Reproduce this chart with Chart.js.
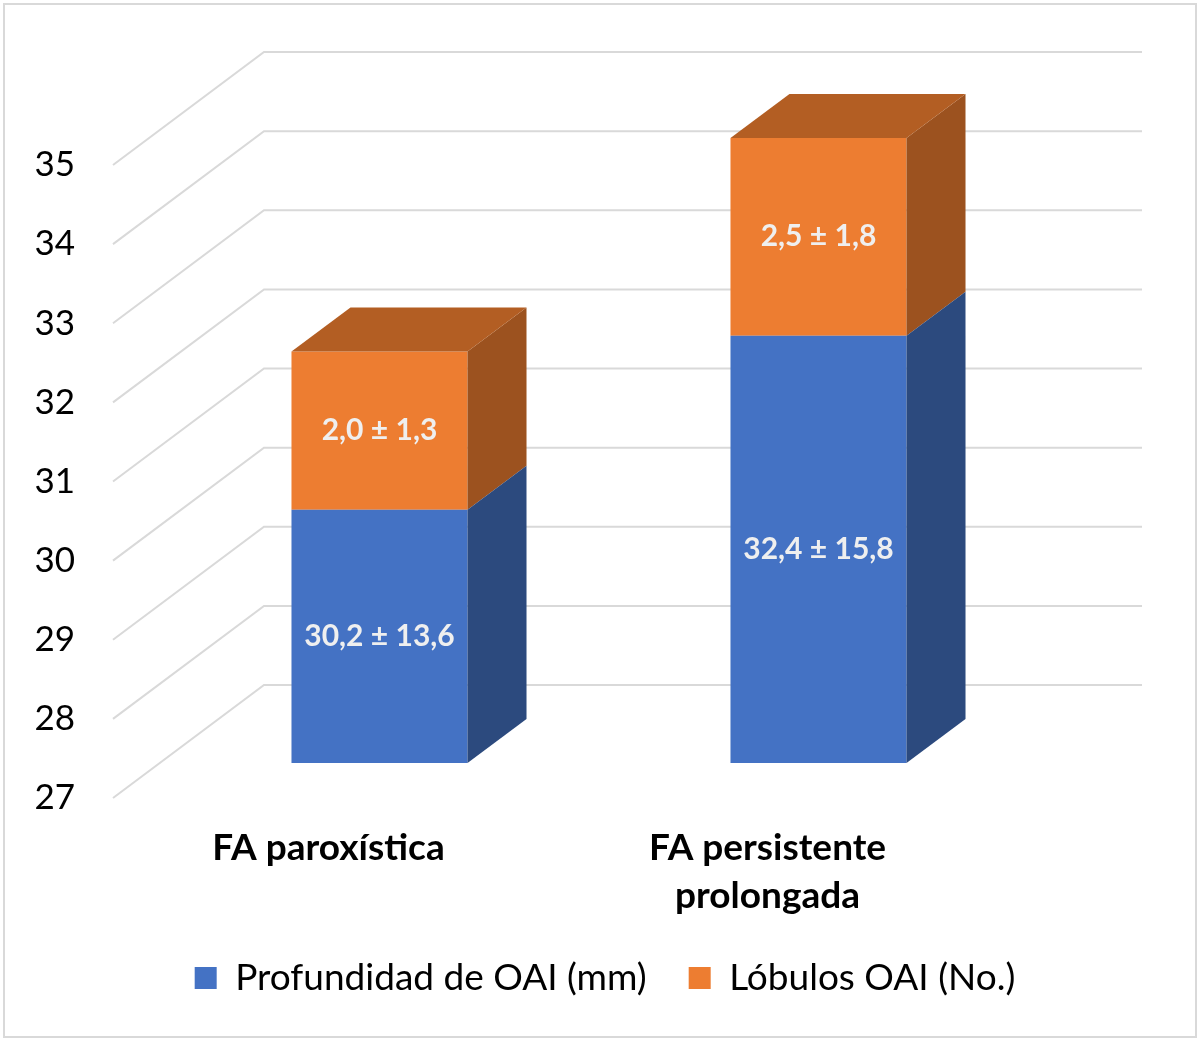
<!DOCTYPE html>
<html>
<head>
<meta charset="utf-8">
<script src="https://cdn.jsdelivr.net/npm/chart.js@4"></script>
<style>
  html, body { margin: 0; padding: 0; background: #fff; }
  #wrap { width: 1200px; height: 1041px; position: relative; }
</style>
</head>
<body>
<div id="wrap"><canvas id="chart"></canvas></div>
<script>
// Data
const categories = ["FA paroxística", ["FA persistente", "prolongada"]];
const seriesNames = ["Profundidad de OAI (mm)", "Lóbulos OAI (No.)"];
const depthValues = [30.2, 32.4];
const lobeValues = [2.0, 2.5];
const depthLabels = ["30,2 ± 13,6", "32,4 ± 15,8"];
const lobeLabels = ["2,0 ± 1,3", "2,5 ± 1,8"];
const yMin = 27;
const yMax = 35;

// Colours
const blue = "#4472C4", blueSide = "#2C4A7E";
const orange = "#ED7D31", orangeSide = "#9C521F", orangeTop = "#B35E23";
const gridColor = "#D9D9D9";
const font = "Lato, 'Open Sans', sans-serif";

// 3D offsets (px)
const barDx = 59, barDy = -44;      // bar depth
const wallDx = 104, wallDy = -78;   // bar front plane -> back wall
const floorDx = -47, floorDy = 35;  // bar front plane -> front edge

const ctx = document.getElementById("chart");

// Border + background
const frame = {
  id: "frame",
  beforeDraw(chart) {
    const c = chart.ctx;
    c.save();
    c.fillStyle = "#fff";
    c.fillRect(0, 0, chart.width, chart.height);
    c.strokeStyle = gridColor;
    c.lineWidth = 2;
    c.strokeRect(4, 4, chart.width - 8, chart.height - 8);
    c.restore();
  }
};

// Back wall + side wall grid lines
const walls = {
  id: "walls",
  beforeDatasetsDraw(chart) {
    const c = chart.ctx;
    const y = chart.scales.y;
    const area = chart.chartArea;
    c.save();
    c.strokeStyle = gridColor;
    c.lineWidth = 2;
    y.ticks.forEach(t => {
      const py = y.getPixelForValue(t.value);
      c.beginPath();
      c.moveTo(area.left + floorDx, py + floorDy);
      c.lineTo(area.left + wallDx, py + wallDy);
      c.lineTo(area.right + wallDx, py + wallDy);
      c.stroke();
    });
    c.restore();
  }
};

// Side and top faces of each box, then the value labels
const boxes = {
  id: "boxes",
  afterDatasetDraw(chart, args) {
    const c = chart.ctx;
    const i = args.index;
    const last = i === chart.data.datasets.length - 1;
    const side = i === 0 ? blueSide : orangeSide;
    c.save();
    args.meta.data.forEach(bar => {
      const p = bar.getProps(["x", "y", "base", "width"], true);
      const l = p.x - p.width / 2, r = p.x + p.width / 2;
      c.fillStyle = side;
      c.beginPath();
      c.moveTo(r, p.y);
      c.lineTo(r + barDx, p.y + barDy);
      c.lineTo(r + barDx, p.base + barDy);
      c.lineTo(r, p.base);
      c.closePath();
      c.fill();
      if (last) {
        c.fillStyle = orangeTop;
        c.beginPath();
        c.moveTo(l, p.y);
        c.lineTo(r, p.y);
        c.lineTo(r + barDx, p.y + barDy);
        c.lineTo(l + barDx, p.y + barDy);
        c.closePath();
        c.fill();
      }
    });
    c.restore();
  },
  afterDatasetsDraw(chart) {
    const c = chart.ctx;
    const texts = [depthLabels, lobeLabels];
    c.save();
    c.fillStyle = "#EFEFEF";
    c.font = "bold 30px " + font;
    c.textAlign = "center";
    c.textBaseline = "middle";
    chart.data.datasets.forEach((ds, i) => {
      chart.getDatasetMeta(i).data.forEach((bar, j) => {
        const p = bar.getProps(["x", "y", "base"], true);
        c.fillText(texts[i][j], p.x, (p.y + p.base) / 2);
      });
    });
    c.restore();
  }
};

new Chart(ctx, {
  type: "bar",
  data: {
    labels: categories,
    datasets: [
      {
        label: seriesNames[0],
        data: depthValues.map(v => [yMin, v]),
        backgroundColor: blue,
        barPercentage: 0.401,
        categoryPercentage: 1,
        clip: false
      },
      {
        label: seriesNames[1],
        data: depthValues.map((v, i) => [v, v + lobeValues[i]]),
        backgroundColor: orange,
        barPercentage: 0.401,
        categoryPercentage: 1,
        clip: false
      }
    ]
  },
  options: {
    responsive: true,
    maintainAspectRatio: false,
    animation: false,
    layout: { padding: { left: 10, right: 0, top: 130, bottom: 34.5 } },
    plugins: {
      tooltip: { enabled: false },
      legend: {
        position: "bottom",
        labels: {
          boxWidth: 22,
          boxHeight: 22,
          padding: 42,
          color: "#000",
          font: { family: font, size: 37 }
        }
      }
    },
    scales: {
      x: {
        stacked: true,
        grid: { display: false, drawTicks: false },
        border: { display: false },
        ticks: {
          color: "#000",
          padding: 61,
          labelOffset: -51,
          font: { family: font, size: 37, weight: "bold", lineHeight: 1.3 }
        },
        afterFit(s) { s.height = 154.5; }
      },
      y: {
        min: yMin,
        max: yMax,
        grid: { display: false, drawTicks: false },
        border: { display: false },
        ticks: {
          stepSize: 1,
          color: "#000",
          padding: 85,
          labelOffset: 35,
          font: { family: font, size: 35 }
        },
        afterFit(s) { s.width = 150; }
      },
      y2: {
        type: "linear",
        position: "right",
        display: true,
        grid: { display: false, drawTicks: false },
        border: { display: false },
        ticks: { display: false },
        afterFit(s) { s.width = 162; }
      }
    }
  },
  plugins: [frame, walls, boxes]
});
</script>
</body>
</html>
